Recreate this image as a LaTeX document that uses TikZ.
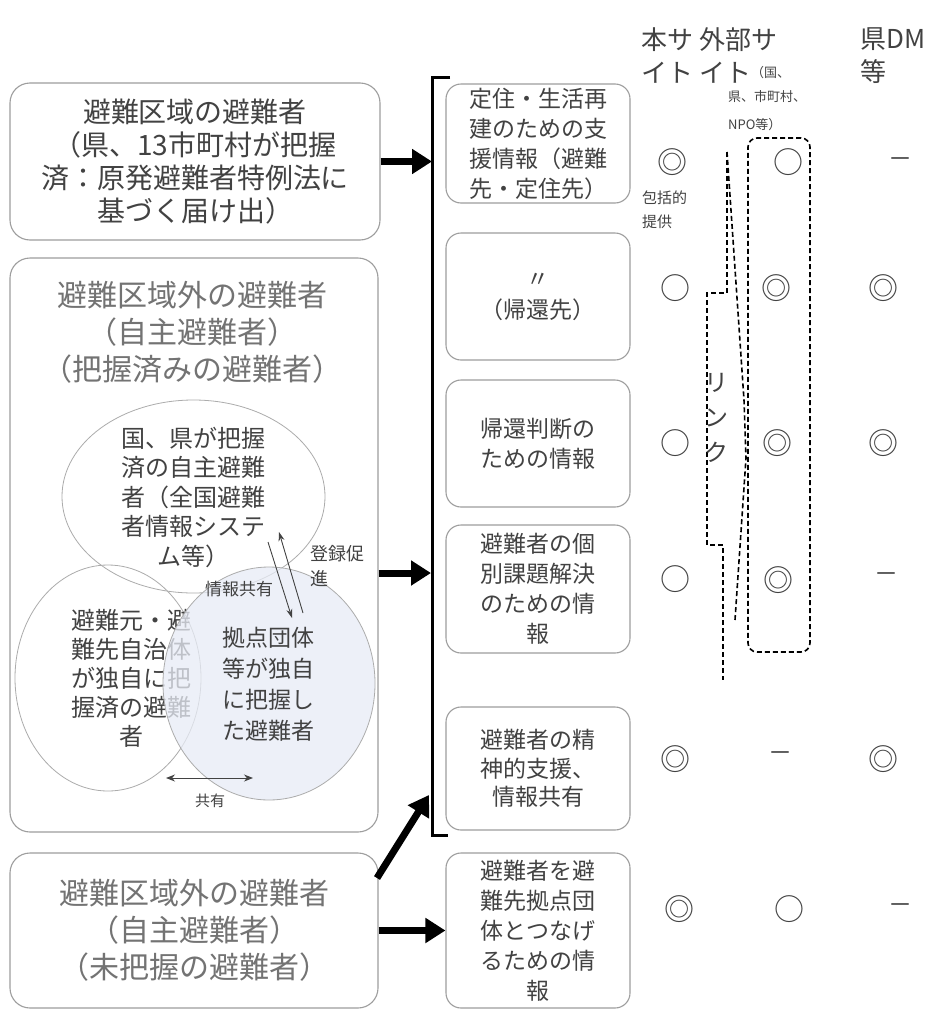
\documentclass[tikz,border=0pt]{standalone}
\usepackage{fontspec}
\setmainfont{Noto Sans CJK JP}
\usetikzlibrary{arrows.meta,shapes.geometric}
\definecolor{boxline}{gray}{0.62}
\definecolor{txt}{gray}{0.26}
\definecolor{lighttxt}{gray}{0.45}
\definecolor{venn}{RGB}{232,236,246}
\begin{document}
\begin{tikzpicture}[x=1pt,y=-1pt,
  bigbox/.style={draw=boxline, line width=1.1pt, rounded corners=20pt, inner sep=0pt},
  infobox/.style={draw=boxline, line width=1.1pt, rounded corners=15pt, minimum width=184pt,
     text=txt, align=center, font=\fontsize{23}{30}\selectfont, inner sep=0pt},
  vennline/.style={draw=gray!65, line width=0.8pt, ellipse, inner sep=0pt},
  venntxt/.style={text=txt, align=center, inner sep=0pt},
  bigarrow/.style={line width=7pt, -{Triangle[length=20pt,width=24pt]}},
  thinarrow/.style={line width=0.9pt, draw=txt, -{Stealth[length=9pt,width=6pt]}},
  dashline/.style={line width=1.6pt, dash pattern=on 5pt off 3pt},
  sym/.style={text=txt, inner sep=0pt, font=\fontsize{30}{30}\selectfont},
  dsh/.style={text=txt, inner sep=0pt, font=\fontsize{24}{24}\selectfont},
  head/.style={text=txt, inner sep=0pt, align=left, font=\fontsize{26}{33}\selectfont, anchor=west},
]
\useasboundingbox (0,0) rectangle (931,1012);
\fill[white] (0,0) rectangle (931,1012);

% left boxes
\node[bigbox, minimum width=370pt, minimum height=157pt, text=txt, align=center,
      font=\fontsize{28}{33}\selectfont] (A) at (195,161.5)
  {避難区域の避難者\\（県、13市町村が把握\\済：原発避難者特例法に\\基づく届け出）};
\node[bigbox, minimum width=368pt, minimum height=574pt] (B) at (194,545) {};
\node[text=lighttxt, align=center, inner sep=0pt, font=\fontsize{30}{37}\selectfont] (Btitle) at (192,332)
  {避難区域外の避難者\\（自主避難者）\\（把握済みの避難者）};
\node[bigbox, minimum width=368pt, minimum height=155pt, text=lighttxt, align=center,
      font=\fontsize{30}{37}\selectfont] (C) at (194,930.5)
  {避難区域外の避難者\\（自主避難者）\\（未把握の避難者）};

% Venn
\node[vennline, minimum width=263pt, minimum height=193pt] (E1) at (193.5,496.5) {};
\node[venntxt, font=\fontsize{24}{29.5}\selectfont] (E1t) at (193,497)
  {国、県が把握\\済の自主避難\\者（全国避難\\者情報システ\\ム等）};
\node[vennline, minimum width=186pt, minimum height=226pt] (E2) at (108,678) {};
\node[venntxt, font=\fontsize{24}{29}\selectfont] (E2t) at (131,678)
  {避難元・避\\難先自治体\\が独自に把\\握済の避難\\者};
\node[vennline, fill=venn, fill opacity=0.75, minimum width=212pt, minimum height=233pt] (E3) at (269,683.5) {};
\node[venntxt, font=\fontsize{23}{31}\selectfont] (E3t) at (268,684)
  {拠点団体\\等が独自\\に把握し\\た避難者};

\coordinate (ta1) at (303,613); \coordinate (tb1) at (279,532);
\coordinate (ta2) at (268,542); \coordinate (tb2) at (292,618);
\draw[thinarrow] (ta1) -- (tb1);
\draw[thinarrow] (ta2) -- (tb2);
\node[venntxt, font=\fontsize{17}{17}\selectfont] (share1) at (239,589) {情報共有};
\node[venntxt, align=left, anchor=west, font=\fontsize{18}{25}\selectfont] (reg) at (310,566) {登録促\\進};
\coordinate (sl) at (166,778); \coordinate (sr) at (253,778);
\draw[line width=1pt, draw=txt, {Stealth[length=9pt,width=7pt]}-{Stealth[length=9pt,width=7pt]}] (sl) -- (sr);
\node[venntxt, font=\fontsize{15}{15}\selectfont] (share2) at (210,801) {共有};

% info boxes
\node[infobox, minimum height=119pt] (I1) at (538,143.5) {定住・生活再\\建のための支\\援情報（避難\\先・定住先）};
\node[infobox, minimum height=127pt, font=\fontsize{23}{31}\selectfont] (I2) at (538,296.5) {〃\\（帰還先）};
\node[infobox, minimum height=127pt] (I3) at (538,443.5) {帰還判断の\\ための情報};
\node[infobox, minimum height=128pt] (I4) at (538,589) {避難者の個\\別課題解決\\のための情\\報};
\node[infobox, minimum height=123pt, font=\fontsize{23}{28.5}\selectfont] (I5) at (538,768.5) {避難者の精\\神的支援、\\情報共有};
\node[infobox, minimum height=155pt] (I6) at (538,930.5) {避難者を避\\難先拠点団\\体とつなげ\\るための情\\報};

% bracket
\coordinate (bt) at (450,77); \coordinate (btl) at (432,77);
\coordinate (bbl) at (432,835); \coordinate (bb) at (448,835);
\draw[line width=3pt] (bt) -- (btl) -- (bbl) -- (bb);

% big arrows
\draw[bigarrow] (A.east) -- (A.east -| btl);
\coordinate (brB) at (431,573);
\draw[bigarrow] (B.east |- brB) -- (brB);
\coordinate (c1) at (377,878); \coordinate (brC) at (429,795);
\draw[bigarrow] (c1) -- (brC);
\draw[bigarrow] (C.east) -- (I6.west);

% headers
\node[head] (h1) at (641,55.5) {本サ\\イト};
\node[head] (h2) at (699,55.5) {外部サ\\イト\raisebox{5pt}{\fontsize{13}{13}\selectfont（国、}};
\node[head, font=\fontsize{13}{28}\selectfont] (h2b) at (728,111) {県、市町村、\\NPO等）};
\node[head] (h3) at (860,55.5) {県DM\\等};

% link dashed
\node[draw, dashline, rounded corners=9pt, minimum width=62pt, minimum height=514pt] (ext) at (779,395) {};
\coordinate (l0) at (727,152);
\coordinate (l1) at (727,293); \coordinate (l2) at (707,293);
\coordinate (l3) at (707,545); \coordinate (l4) at (723,545);
\coordinate (l5) at (723,680);
\draw[dashline] (l0) -- (l1) -- (l2) -- (l3) -- (l4) -- (l5);
\coordinate (w1) at (744,400); \coordinate (w2) at (746,458); \coordinate (w3) at (735,620);
\draw[dashline] (l0) -- (w1) -- (w2) -- (w3);
\node[text=txt, align=center, inner sep=0pt, font=\fontsize{24}{35}\selectfont] (link) at (716,418) {リ\\ン\\ク};
\node[text=txt, align=left, inner sep=0pt, anchor=west, font=\fontsize{15}{24}\selectfont] (hk) at (642,210) {包括的\\提供};

% symbols
\node[sym] (s11) at (672,162) {◎};
\node[sym] (s12) at (788,162) {○};
\node[dsh] (s13) at (900,163) {－};
\node[sym] (s21) at (675,288) {○};
\node[sym] (s22) at (776,288) {◎};
\node[sym] (s23) at (883,288) {◎};
\node[sym] (s31) at (675,443) {○};
\node[sym] (s32) at (777,443) {◎};
\node[sym] (s33) at (883,443) {◎};
\node[sym] (s41) at (675,579) {○};
\node[sym] (s42) at (778,580) {◎};
\node[dsh] (s43) at (886,578) {－};
\node[sym] (s51) at (675,759) {◎};
\node[dsh] (s52) at (780,757) {－};
\node[sym] (s53) at (883,759) {◎};
\node[sym] (s61) at (679,909) {◎};
\node[sym] (s62) at (789,909) {○};
\node[dsh] (s63) at (900,909) {－};
\end{tikzpicture}
\end{document}
